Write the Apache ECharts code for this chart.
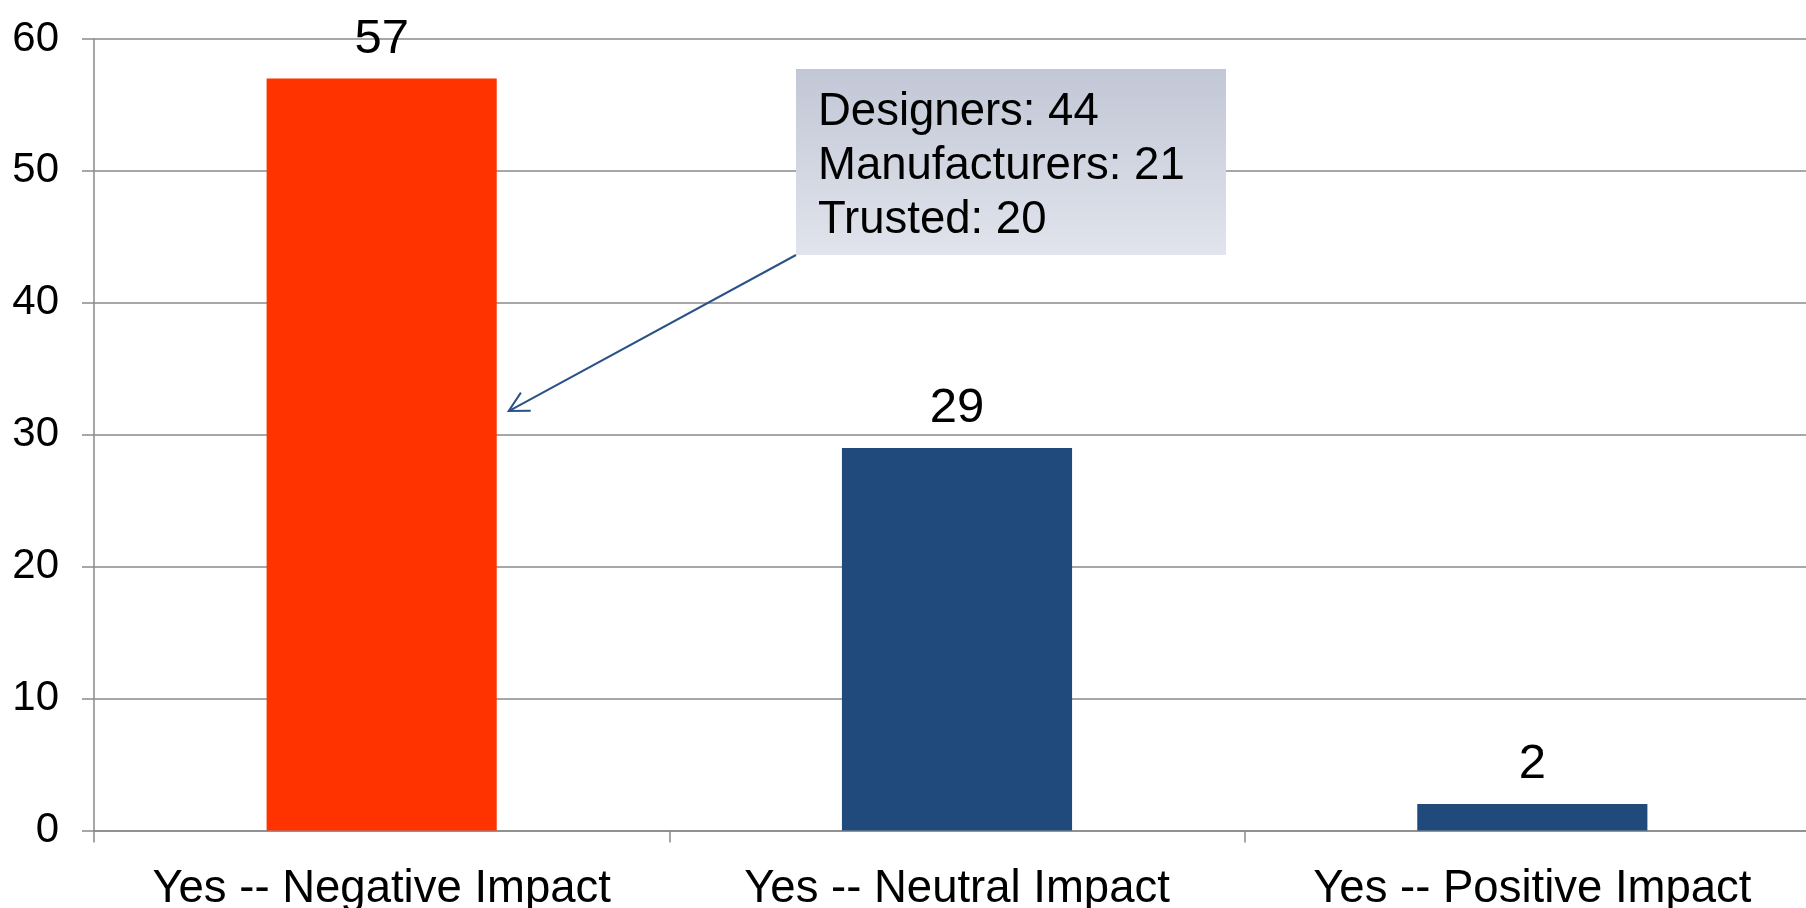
<!DOCTYPE html>
<html><head><meta charset="utf-8">
<script src="https://cdn.jsdelivr.net/npm/echarts@6/dist/echarts.min.js"></script>
<style>html,body{margin:0;padding:0;background:#fff}#c{width:1806px;height:908px}</style>
</head><body><div id="c"></div>
<script>
const categories = ['Yes -- Negative Impact', 'Yes -- Neutral Impact', 'Yes -- Positive Impact'];
const values = [57, 29, 2];
const barColors = ['#FF3300', '#214A7C', '#214A7C'];
const yMin = 0, yMax = 60, yInterval = 10;
const calloutLines = ['Designers: 44', 'Manufacturers: 21', 'Trusted: 20'];
const arrowTarget = { category: 0, value: 31.8 };

const FONT = '"Liberation Sans", Arial, sans-serif';
const GRAY = '#8a8a8a';
const chart = echarts.init(document.getElementById('c'), null, { renderer: 'canvas' });

const option = {
  animation: false,
  backgroundColor: '#ffffff',
  grid: { left: 94, top: 39, width: 1726, bottom: 77.5, containLabel: false, outerBoundsMode: 'none' },
  xAxis: {
    type: 'category',
    data: categories,
    boundaryGap: true,
    axisLine: { show: true, lineStyle: { color: GRAY, width: 1.5 } },
    axisTick: { show: true, alignWithLabel: false, length: 12, lineStyle: { color: GRAY, width: 1.5 } },
    axisLabel: { interval: 0, margin: 36, color: '#000', fontFamily: FONT, fontSize: 45.5, lineHeight: 46 },
    splitLine: { show: false }
  },
  yAxis: {
    type: 'value',
    min: yMin, max: yMax, interval: yInterval,
    axisLine: { show: true, lineStyle: { color: GRAY, width: 1.5 } },
    axisTick: { show: true, inside: false, length: 12, lineStyle: { color: GRAY, width: 1.5 } },
    axisLabel: { margin: 35, color: '#000', fontFamily: FONT, fontSize: 42 },
    splitLine: { show: true, lineStyle: { color: GRAY, width: 1.5 } }
  },
  series: [{
    type: 'bar',
    data: values.map((v, i) => ({ value: v, itemStyle: { color: barColors[i] } })),
    barCategoryGap: '60%',
    label: {
      show: true, position: 'top', distance: 15,
      color: '#000', fontFamily: FONT, fontSize: 49, lineHeight: 49
    }
  }]
};
chart.setOption(option);

// Callout annotation, arrow tip anchored to the first bar through the chart's scales
const p0 = chart.convertToPixel({ gridIndex: 0 }, [arrowTarget.category, arrowTarget.value]);
const p1 = chart.convertToPixel({ gridIndex: 0 }, [arrowTarget.category + 1, arrowTarget.value]);
const catW = p1[0] - p0[0];
const tip = [p0[0] + catW * 0.4 / 2 + 12, p0[1]];
const start = [796, 255];
const dx = start[0] - tip[0], dy = start[1] - tip[1];
const L = Math.sqrt(dx * dx + dy * dy);
const ux = dx / L, uy = dy / L;
const wing = 22, ang = 28 * Math.PI / 180;
function rot(x, y, a) { return [x * Math.cos(a) - y * Math.sin(a), x * Math.sin(a) + y * Math.cos(a)]; }
const w1 = rot(ux, uy, ang), w2 = rot(ux, uy, -ang);
const ARROW = '#2B5288';

chart.setOption({
  graphic: [
    {
      type: 'rect', left: 796, top: 69, z: 10,
      shape: { width: 430, height: 186 },
      style: {
        fill: new echarts.graphic.LinearGradient(0, 0, 0, 1, [
          { offset: 0, color: '#C2C7D6' }, { offset: 1, color: '#E1E4EC' }
        ])
      }
    },
    {
      type: 'text', left: 818, top: 85, z: 11,
      style: {
        text: calloutLines.join('\n'),
        font: '45.5px ' + FONT, fill: '#000', lineHeight: 54
      }
    },
    {
      type: 'line', z: 11,
      shape: { x1: start[0], y1: start[1], x2: tip[0], y2: tip[1] },
      style: { stroke: ARROW, lineWidth: 2 }
    },
    {
      type: 'polyline', z: 11,
      shape: { points: [
        [tip[0] + w1[0] * wing, tip[1] + w1[1] * wing],
        tip,
        [tip[0] + w2[0] * wing, tip[1] + w2[1] * wing]
      ] },
      style: { stroke: ARROW, lineWidth: 2, fill: null }
    }
  ]
});
</script>
</body></html>
